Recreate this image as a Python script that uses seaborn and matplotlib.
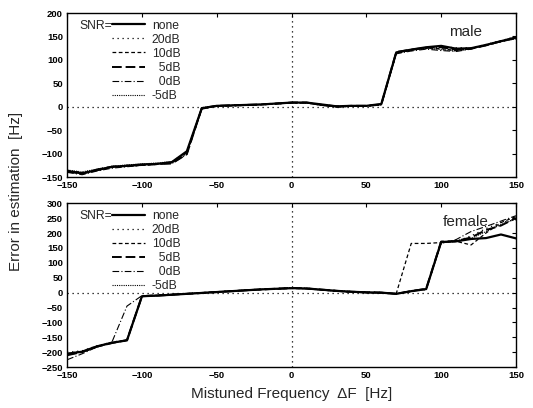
import numpy as np
import pandas as pd
import matplotlib
matplotlib.use("Agg")
import matplotlib.pyplot as plt
from matplotlib.lines import Line2D
import seaborn as sns

# ---------------- data ----------------
freq = list(range(-150, 151, 10))
snr_levels = ["none", "20dB", "10dB", "5dB", "0dB", "-5dB"]
legend_labels = ["none", "20dB", "10dB", "  5dB", "  0dB", "-5dB"]

male_none = [-138, -142, -135, -128, -126, -123, -122, -118, -95, -3, 2, 3, 4, 5, 7, 9, 9, 5, 1, 2, 2, 6,
             116, 122, 127, 130, 124, 125, 132, 140, 148]
male_20 = [-135, -140, -134, -130, -125, -124, -121, -120, -100, -2, 1, 2, 3, 4, 6, 8, 8, 4, 0, 1, 1, 4,
           114, 120, 124, 128, 126, 126, 133, 141, 150]
male_10 = [-136, -141, -136, -129, -127, -125, -123, -119, -98, -4, 2, 3, 4, 5, 7, 9, 9, 4, 0, 1, 2, 5,
           115, 121, 126, 124, 120, 124, 131, 139, 146]
male_5 = [-137, -143, -134, -128, -126, -124, -122, -121, -101, -3, 2, 3, 4, 5, 7, 9, 9, 4, 1, 2, 2, 5,
          117, 122, 126, 127, 122, 124, 131, 140, 147]
male_0 = [-140, -145, -137, -131, -128, -125, -123, -121, -102, -5, 1, 2, 3, 5, 6, 8, 8, 3, -1, 1, 1, 4,
          113, 119, 123, 120, 118, 123, 132, 140, 147]
male_m5 = [-135, -139, -133, -127, -124, -122, -120, -117, -96, -2, 2, 3, 4, 5, 7, 9, 9, 5, 1, 2, 2, 5,
           116, 121, 125, 122, 119, 124, 131, 139, 145]

female_none = [-205, -198, -180, -168, -160, -12, -10, -7, -4, -1, 2, 5, 8, 11, 13, 15, 14, 10, 6, 3, 1, 0,
               -4, 5, 12, 170, 172, 180, 183, 195, 182]
female_20 = [-200, -195, -178, -166, -158, -11, -9, -6, -3, 0, 3, 6, 9, 12, 14, 17, 15, 11, 7, 4, 2, 1,
             -3, 4, 10, 168, 172, 190, 215, 235, 245]
female_10 = [-208, -200, -182, -167, -161, -13, -10, -7, -4, -1, 2, 5, 8, 10, 12, 14, 13, 9, 5, 2, 0, -1,
             -3, 165, 165, 168, 172, 160, 200, 235, 255]
female_5 = [-210, -199, -181, -169, -159, -12, -10, -7, -4, -1, 2, 5, 8, 11, 13, 16, 14, 10, 6, 3, 1, 0,
            -4, 5, 13, 171, 173, 185, 210, 225, 250]
female_0 = [-225, -205, -182, -165, -45, -10, -8, -6, -3, 0, 3, 6, 9, 11, 13, 15, 13, 9, 5, 2, 0, -1,
            -4, 6, 12, 165, 178, 205, 222, 240, 258]
female_m5 = [-203, -197, -179, -167, -160, -12, -10, -7, -4, -1, 2, 5, 8, 11, 13, 15, 14, 10, 6, 3, 1, 0,
             -4, 5, 12, 169, 171, 182, 205, 228, 248]

male_series = [male_none, male_20, male_10, male_5, male_0, male_m5]
female_series = [female_none, female_20, female_10, female_5, female_0, female_m5]

rows = []
for panel, series in (("male", male_series), ("female", female_series)):
    for snr, vals in zip(snr_levels, series):
        for f, v in zip(freq, vals):
            rows.append({"panel": panel, "snr": snr, "freq": f, "err": v})
df = pd.DataFrame(rows)

# ---------------- style ----------------
sns.set_theme(style="white")
plt.rcParams["font.family"] = ["Liberation Sans", "DejaVu Sans"]

dashes = {
    "none": "",
    "20dB": (1, 3),
    "10dB": (3, 2),
    "5dB": (5, 2),
    "0dB": (6, 2, 1, 2),
    "-5dB": (1, 1),
}
sizes = {"none": 1.6, "20dB": 0.9, "10dB": 0.9, "5dB": 1.4, "0dB": 0.8, "-5dB": 0.8}
palette = {k: "black" for k in snr_levels}

fig = plt.figure(figsize=(5.33, 4.08), dpi=100)
ax1 = fig.add_axes([0.126, 0.566, 0.842, 0.402])
ax2 = fig.add_axes([0.126, 0.100, 0.842, 0.402])

panels = [(ax1, "male", (-150, 200), 0.925), (ax2, "female", (-250, 300), 0.94)]
for ax, name, ylim, tx in panels:
    sub = df[df["panel"] == name]
    sns.lineplot(data=sub, x="freq", y="err", hue="snr", style="snr", size="snr",
                 hue_order=snr_levels, style_order=snr_levels, size_order=snr_levels,
                 palette=palette, dashes=dashes, sizes=sizes, estimator=None,
                 legend=False, ax=ax)
    ax.axhline(0, color="black", lw=0.9, ls=(0, (1, 3)), zorder=0)
    ax.axvline(0, color="black", lw=0.9, ls=(0, (1, 3)), zorder=0)
    ax.set_xlim(-150, 150)
    ax.set_ylim(*ylim)
    ax.set_xticks(np.arange(-150, 151, 50))
    ax.set_yticks(np.arange(ylim[0], ylim[1] + 1, 50))
    ax.tick_params(direction="in", length=3, width=0.8, top=True, right=True,
                   labelsize=6.8, colors="black", pad=3)
    for lab in ax.get_xticklabels() + ax.get_yticklabels():
        lab.set_fontweight("bold")
    for sp in ax.spines.values():
        sp.set_color("black")
        sp.set_linewidth(1.0)
    ax.set_xlabel("")
    ax.set_ylabel("")
    ax.text(tx, 0.93, name, transform=ax.transAxes, ha="right", va="top", fontsize=11)

    handles = [Line2D([], [], color="black", lw=sizes[k],
                      linestyle=(0, dashes[k]) if dashes[k] else "-") for k in snr_levels]
    ax.legend(handles, legend_labels, loc="upper left", bbox_to_anchor=(0.1, 0.96),
              frameon=False, fontsize=8.7, handlelength=2.7, handletextpad=0.6,
              labelspacing=0.17, borderaxespad=0, borderpad=0)
    ax.text(0.1, 0.92, "SNR=", transform=ax.transAxes, ha="right", va="center", fontsize=8.7)

fig.text(0.03, 0.53, "Error in estimation  [Hz]", rotation=90, ha="center", va="center", fontsize=11)
fig.text(0.547, 0.035, "Mistuned Frequency  \u0394F  [Hz]", ha="center", va="center", fontsize=11)

fig.savefig("out.png", dpi=100)
